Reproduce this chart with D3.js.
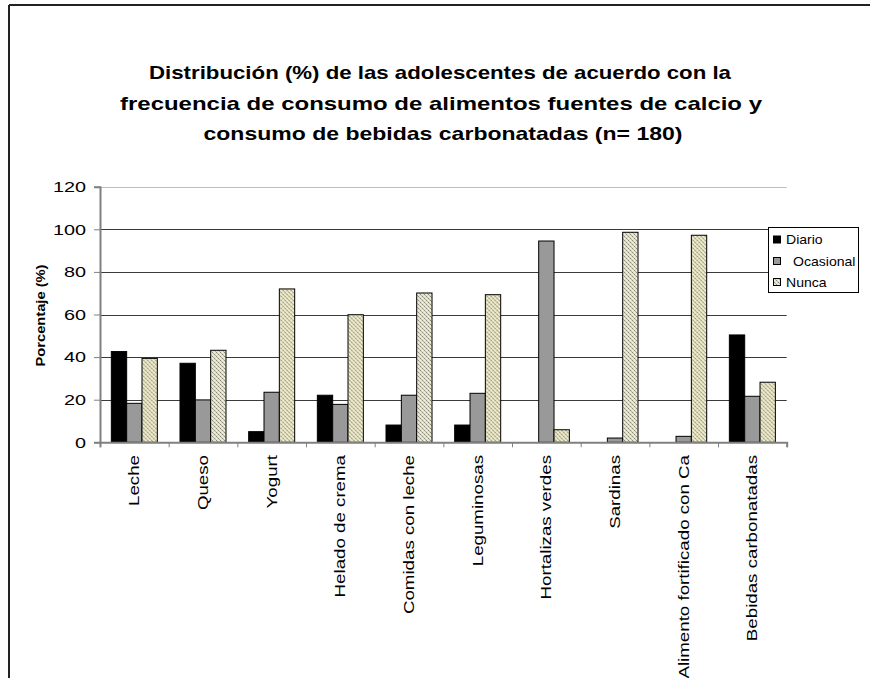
<!DOCTYPE html>
<html>
<head>
<meta charset="utf-8">
<script src="https://cdn.jsdelivr.net/npm/d3@7"></script>
<style>
  html, body { margin: 0; padding: 0; background: #fff; }
  svg { display: block; }
  text { font-family: Arial, "Liberation Sans", sans-serif; fill: #000; }
</style>
</head>
<body>
<svg id="chart" width="870" height="678"></svg>
<script>
// ---- data ----
const categories = ["Leche", "Queso", "Yogurt", "Helado de crema", "Comidas con leche",
  "Leguminosas", "Hortalizas verdes", "Sardinas", "Alimento fortificado con Ca", "Bebidas carbonatadas"];
const seriesNames = ["Diario", "Ocasional", "Nunca"];
const diario    = [42.6, 37.1, 5.0, 22.1, 8.1, 8.1, 0, 0, 0, 50.4];
const ocasional = [18.3, 19.9, 23.5, 17.8, 22.1, 23.0, 94.5, 2.0, 2.8, 21.6];
const nunca     = [39.4, 43.2, 72.0, 59.9, 70.1, 69.3, 5.9, 98.6, 97.2, 28.2];
const yTicks = [0, 20, 40, 60, 80, 100, 120];
const titleLines = [
  "Distribución (%) de las adolescentes de acuerdo con la",
  "frecuencia de consumo de alimentos fuentes de calcio  y",
  "consumo de bebidas carbonatadas (n= 180)"
];
const yLabel = "Porcentaje (%)";

const seriesValues = [diario, ocasional, nunca];

// ---- layout ----
const svg = d3.select("#chart");
const plot = { left: 100, right: 786.7, top: 186.7, bottom: 442.3 };

// pattern for "Nunca"
const defs = svg.append("defs");
const pat = defs.append("pattern").attr("id", "dots").attr("patternUnits", "userSpaceOnUse")
  .attr("width", 4).attr("height", 4);
pat.append("rect").attr("width", 4).attr("height", 4).attr("fill", "#e6e2c0");
[[0,0],[2,2],[1,1],[3,3],[2,0],[0,2]].forEach(([a,b], i) => {
  pat.append("rect").attr("x", a).attr("y", b).attr("width", 1).attr("height", 1)
    .attr("fill", i < 2 ? "#8a8a7a" : (i < 4 ? "#b4b29a" : "#f4f2dc"));
});
const fills = ["#000000", "#999999", "url(#dots)"];

// frame
svg.append("line").attr("x1", 9).attr("x2", 870).attr("y1", 5).attr("y2", 5)
  .attr("stroke", "#222").attr("stroke-width", 2);
svg.append("line").attr("x1", 9).attr("x2", 9).attr("y1", 5).attr("y2", 678)
  .attr("stroke", "#222").attr("stroke-width", 2);

// title
const titleX = [440, 441, 443];
const titleY = [79, 110, 140];
const titleW = [582, 642, 479];
titleLines.forEach((t, i) => {
  svg.append("text").attr("x", titleX[i]).attr("y", titleY[i])
    .attr("text-anchor", "middle").attr("font-size", 19).attr("font-weight", "bold")
    .attr("textLength", titleW[i]).attr("lengthAdjust", "spacingAndGlyphs")
    .text(t);
});

// scales
const x0 = d3.scaleBand().domain(categories).range([plot.left, plot.right])
  .paddingInner(0.33).paddingOuter(0.165);
const x1 = d3.scaleBand().domain(seriesNames).range([0, x0.bandwidth()]);
const y = d3.scaleLinear().domain([0, 120]).range([plot.bottom, plot.top]);
const xb = d3.scaleLinear().domain([0, categories.length]).range([plot.left, plot.right]);

// gridlines
svg.append("g").selectAll("line").data(yTicks.filter(d => d > 0)).join("line")
  .attr("x1", plot.left).attr("x2", plot.right)
  .attr("y1", d => Math.round(y(d)) + 0.5).attr("y2", d => Math.round(y(d)) + 0.5)
  .attr("stroke", d => d === 120 ? "#bdbdbd" : "#3a3a3a").attr("stroke-width", 1);

// bars
const groups = svg.append("g").selectAll("g").data(categories).join("g")
  .attr("transform", c => `translate(${x0(c)},0)`);
groups.selectAll("rect").data((c, ci) => seriesNames.map((s, si) => ({ s, si, v: seriesValues[si][ci] })))
  .join("rect")
  .filter(d => d.v > 0)
  .attr("x", d => x1(d.s)).attr("width", x1.bandwidth())
  .attr("y", d => y(d.v)).attr("height", d => y(0) - y(d.v))
  .attr("fill", d => fills[d.si]).attr("stroke", "#000").attr("stroke-width", 1);

// y axis
const yAxis = svg.append("g").attr("transform", `translate(${plot.left},0)`)
  .call(d3.axisLeft(y).tickValues(yTicks).tickSize(6).tickPadding(8).tickFormat(d3.format("d")));
yAxis.select(".domain").attr("stroke", "#808080").attr("stroke-width", 2);
yAxis.selectAll(".tick line").attr("stroke", "#808080").attr("stroke-width", 1);
yAxis.selectAll(".tick text").attr("font-size", 15).attr("font-family", "Arial, 'Liberation Sans', sans-serif")
  .each(function () {
    const w = this.getComputedTextLength();
    d3.select(this).attr("textLength", w * 1.32).attr("lengthAdjust", "spacingAndGlyphs");
  });

// x axis
const xAxis = svg.append("g").attr("transform", `translate(0,${plot.bottom})`)
  .call(d3.axisBottom(xb).tickValues(d3.range(categories.length + 1)).tickSize(5).tickFormat(""));
xAxis.select(".domain").attr("stroke", "#808080").attr("stroke-width", 2);
xAxis.selectAll(".tick line").attr("stroke", "#808080").attr("stroke-width", 1);

// x labels
svg.append("g").selectAll("text").data(categories).join("text")
  .attr("transform", c => `translate(${x0(c) + x0.bandwidth() / 2 + 5},455) rotate(-90)`)
  .attr("text-anchor", "end").attr("font-size", 14.5)
  .text(c => c)
  .each(function () {
    const w = this.getComputedTextLength();
    d3.select(this).attr("textLength", w * 1.29).attr("lengthAdjust", "spacingAndGlyphs");
  });

// y label
svg.append("text").attr("transform", `translate(45,${(plot.top + plot.bottom) / 2 + 1}) rotate(-90)`)
  .attr("text-anchor", "middle").attr("font-size", 13).attr("font-weight", "bold")
  .attr("textLength", 102).attr("lengthAdjust", "spacingAndGlyphs")
  .text(yLabel);

// legend
const lg = svg.append("g");
lg.append("rect").attr("x", 768.5).attr("y", 227.5).attr("width", 90).attr("height", 65)
  .attr("fill", "#fff").attr("stroke", "#000").attr("stroke-width", 1);
const rowY = [239.5, 261, 282];
const textX = [786, 793, 786];
seriesNames.forEach((s, i) => {
  lg.append("rect").attr("x", 773.5).attr("y", rowY[i] - 3.5).attr("width", 7).attr("height", 7)
    .attr("fill", fills[i]).attr("stroke", "#000").attr("stroke-width", 1);
  lg.append("text").attr("x", textX[i]).attr("y", rowY[i] + 4.5).attr("font-size", 13)
    .text(s)
    .each(function () {
      const w = this.getComputedTextLength();
      d3.select(this).attr("textLength", w * 1.08).attr("lengthAdjust", "spacingAndGlyphs");
    });
});
</script>
</body>
</html>
